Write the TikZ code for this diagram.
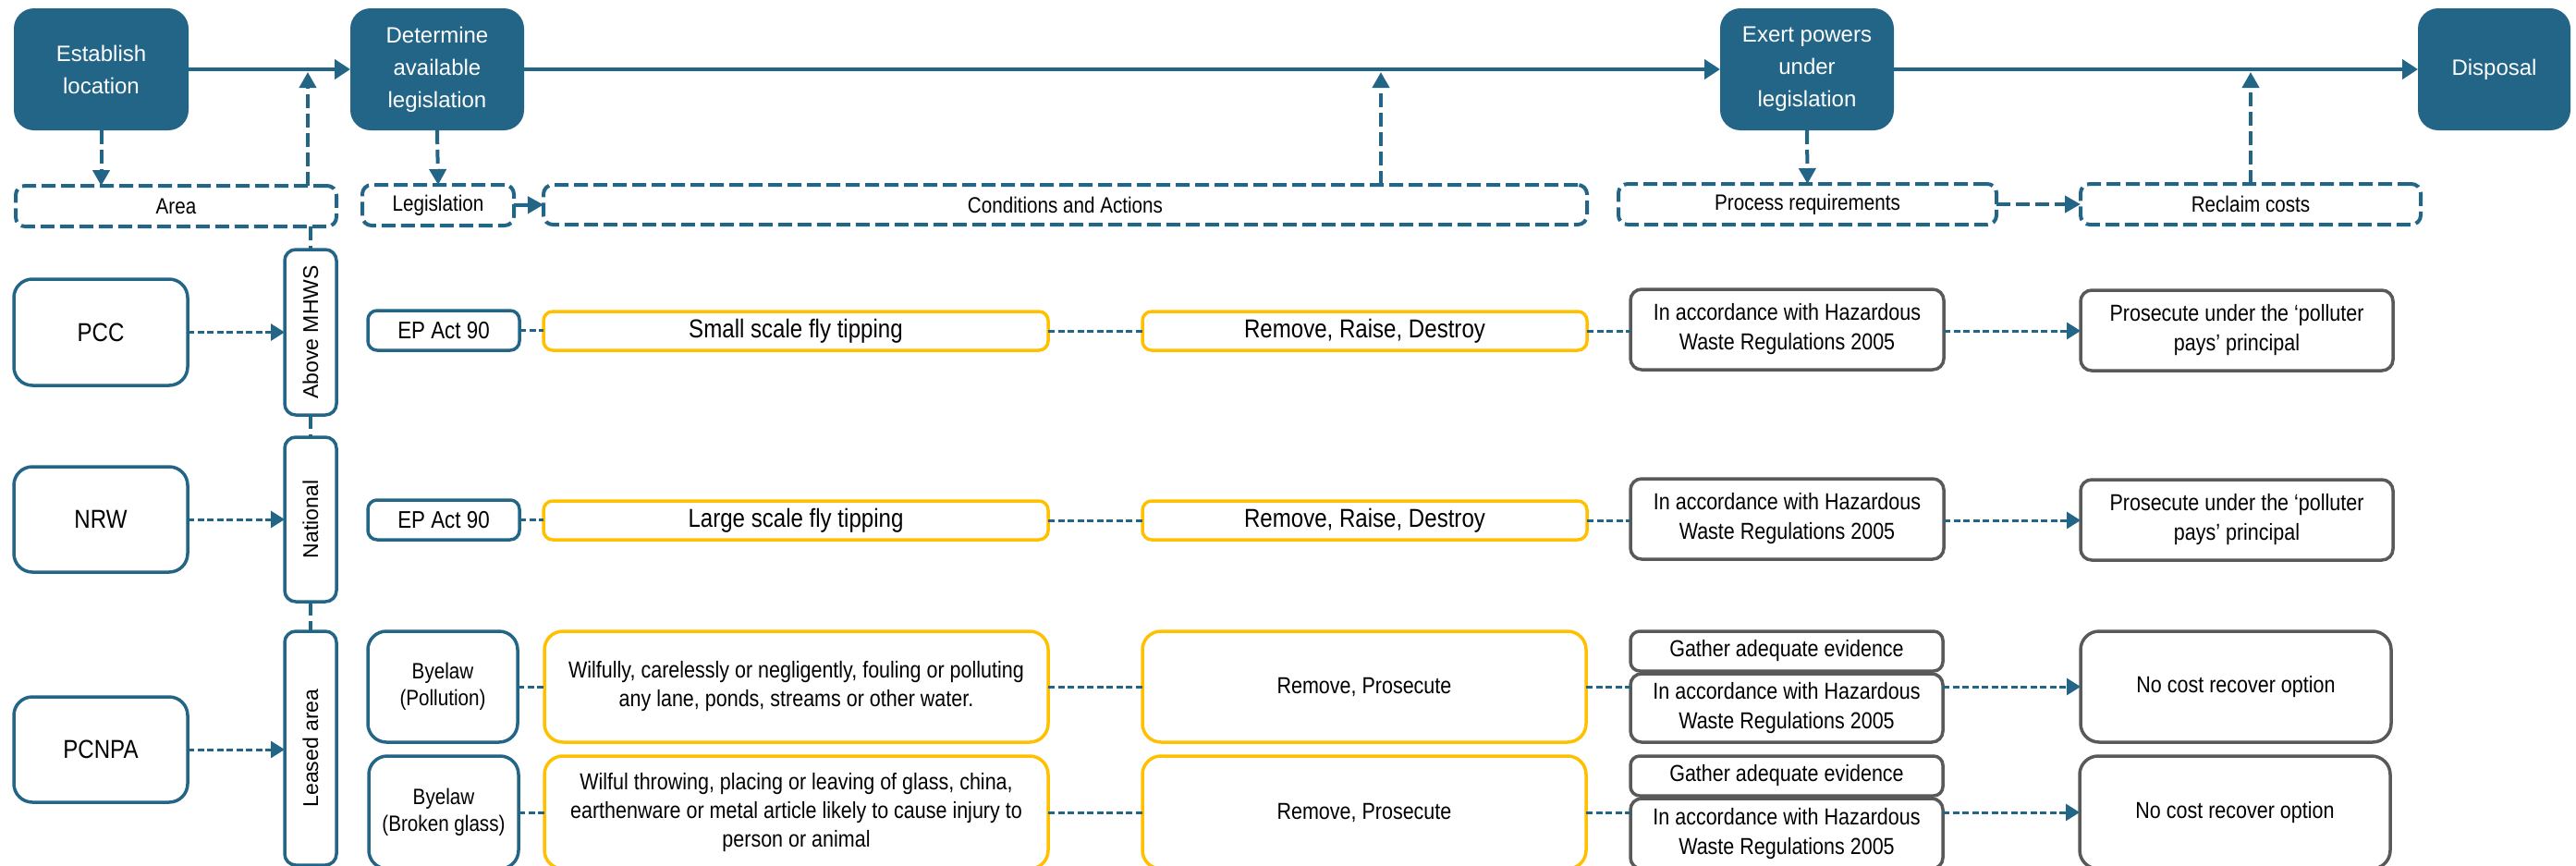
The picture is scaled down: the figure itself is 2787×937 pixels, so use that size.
\documentclass[tikz,border=0pt]{standalone}
\usepackage{fontspec}
\setmainfont{Liberation Sans}
\newfontfamily\narrowfont[FakeStretch=0.86]{Liberation Sans}
\usetikzlibrary{arrows.meta}
\definecolor{mblue}{RGB}{35,101,135}
\definecolor{myellow}{RGB}{255,192,0}
\definecolor{mgray}{RGB}{89,89,89}
\newcommand\placebox[7]{\node[#1,minimum width={(#5)-(#3)},minimum height={(#6)-(#4)}] (#2) at ({((#3)+(#5))/2},{((#4)+(#6))/2}) {#7};}
\begin{document}
\begin{tikzpicture}[x=1pt,y=-1pt,
  mainbox/.style={fill=mblue, draw=none, rounded corners=22pt, text=white, align=center, inner sep=2pt, outer sep=0pt, font=\fontsize{24}{35}\selectfont},
  dbox/.style={draw=mblue, line width=4pt, dash pattern=on 15pt off 6pt, rounded corners=10pt, align=center, inner sep=2pt, outer sep=0pt, font=\narrowfont\fontsize{24}{29}\selectfont},
  lbox/.style={draw=mblue, line width=3.5pt, rounded corners=20pt, align=center, inner sep=2pt, outer sep=0pt, font=\narrowfont\fontsize{28}{33}\selectfont},
  vbox/.style={draw=mblue, line width=3.5pt, rounded corners=12pt, inner sep=0pt, outer sep=0pt, font=\fontsize{23}{28}\selectfont},
  sbox/.style={draw=mblue, line width=3.5pt, rounded corners=10pt, align=center, inner sep=2pt, outer sep=0pt, font=\narrowfont\fontsize{24}{29}\selectfont},
  ybox/.style={draw=myellow, line width=3.5pt, rounded corners=10pt, align=center, inner sep=2pt, outer sep=0pt, font=\narrowfont\fontsize{25}{31}\selectfont},
  ybig/.style={ybox, font=\narrowfont\fontsize{28}{33}\selectfont},
  gbox/.style={draw=mgray, line width=3.5pt, rounded corners=12pt, align=center, inner sep=2pt, outer sep=0pt, font=\narrowfont\fontsize{25}{32}\selectfont},
  flow/.style={draw=mblue, line width=4pt, -{Triangle[length=17pt,width=21pt]}},
  darrow/.style={draw=mblue, line width=4pt, dash pattern=on 15pt off 6pt, -{Triangle[length=17pt,width=18pt]}},
  dline/.style={draw=mblue, line width=4pt, dash pattern=on 15pt off 6pt},
  tarrow/.style={draw=mblue, line width=3pt, dash pattern=on 7pt off 3.5pt, -{Triangle[length=15pt,width=18pt]}},
  tline/.style={draw=mblue, line width=3pt, dash pattern=on 7pt off 3.5pt}
]
\useasboundingbox (0,0) rectangle (2787,937);
\clip (0,0) rectangle (2787,937);

% main process boxes
\placebox{mainbox}{est}{15}{9}{204}{141}{Establish\\location}
\placebox{mainbox}{det}{379}{9}{567}{141}{Determine\\available\\legislation}
\placebox{mainbox}{exert}{1861}{9}{2049}{141}{Exert powers\\under\\legislation}
\placebox{mainbox}{disp}{2616}{9}{2781}{141}{Disposal}

\draw[flow] (est) -- (det);
\draw[flow] (det) -- (exert);
\draw[flow] (exert) -- (disp);

% dashed category boxes
\placebox{dbox}{area}{17}{201}{364}{245}{Area}
\placebox{dbox}{legis}{392}{200}{556}{244}{Legislation}
\placebox{dbox}{cond}{588}{200}{1717}{243}{Conditions and Actions}
\placebox{dbox}{proc}{1751}{199}{2160}{243}{Process requirements}
\placebox{dbox}{recl}{2251}{199}{2619}{243}{Reclaim costs}

\coordinate (upA) at (333,78);
\coordinate (upC) at (1494,78);
\coordinate (upR) at (2435,78);

\draw[darrow] (est.south) -- (est.south |- area.north);
\draw[darrow] (upA |- area.north) -- (upA);
\draw[darrow] (det.south) -- (legis.north);
\draw[darrow] (legis.east) -- (cond.west);
\draw[darrow] (upC |- cond.north) -- (upC);
\draw[darrow] (exert.south) -- (proc.north);
\draw[darrow] (proc.east) -- (recl.west);
\draw[darrow] (upR |- recl.north) -- (upR);

% location boxes
\placebox{lbox}{pcc}{15}{302}{203}{417}{PCC}
\placebox{lbox}{nrw}{15}{505}{203}{619}{NRW}
\placebox{lbox}{pcnpa}{15}{754}{203}{868}{PCNPA}

\placebox{vbox}{mhws}{308}{270}{364}{449}{\rotatebox{90}{Above MHWS}}
\placebox{vbox}{natl}{308}{473}{364}{651}{\rotatebox{90}{National}}
\placebox{vbox}{leased}{308}{683}{364}{936}{\rotatebox{90}{Leased area}}

\draw[dline] (mhws.north |- area.south) -- (mhws.north);
\draw[dline] (mhws.south) -- (natl.north);
\draw[dline] (natl.south) -- (leased.north);

\draw[tarrow] (pcc.east) -- (pcc.east -| mhws.west);
\draw[tarrow] (nrw.east) -- (nrw.east -| natl.west);
\draw[tarrow] (pcnpa.east) -- (pcnpa.east -| leased.west);

% row 1
\placebox{sbox,font=\narrowfont\fontsize{26}{30}\selectfont}{ep1}{398}{336}{562}{379}{EP Act 90}
\placebox{ybig}{sm1}{588}{337}{1134}{379}{Small scale fly tipping}
\placebox{ybig}{rr1}{1236}{337}{1717}{379}{Remove, Raise, Destroy}
\placebox{gbox}{acc1}{1764}{313}{2103}{400}{In accordance with Hazardous\\Waste Regulations 2005}
\placebox{gbox}{pros1}{2251}{314}{2589}{401}{Prosecute under the ‘polluter\\pays’ principal}
\draw[tline] (ep1.east) -- (ep1.east -| sm1.west);
\draw[tline] (sm1.east) -- (sm1.east -| rr1.west);
\draw[tline] (rr1.east) -- (rr1.east -| acc1.west);
\draw[tarrow] (acc1.east |- rr1.east) -- (rr1.east -| pros1.west);

% row 2
\placebox{sbox,font=\narrowfont\fontsize{26}{30}\selectfont}{ep2}{398}{541}{562}{584}{EP Act 90}
\placebox{ybig}{lg2}{588}{542}{1134}{584}{Large scale fly tipping}
\placebox{ybig}{rr2}{1236}{542}{1717}{584}{Remove, Raise, Destroy}
\placebox{gbox}{acc2}{1764}{518}{2103}{605}{In accordance with Hazardous\\Waste Regulations 2005}
\placebox{gbox}{pros2}{2251}{519}{2589}{606}{Prosecute under the ‘polluter\\pays’ principal}
\draw[tline] (ep2.east) -- (ep2.east -| lg2.west);
\draw[tline] (lg2.east) -- (lg2.east -| rr2.west);
\draw[tline] (rr2.east) -- (rr2.east -| acc2.west);
\draw[tarrow] (acc2.east |- rr2.east) -- (rr2.east -| pros2.west);

% row 3
\placebox{sbox,rounded corners=20pt}{by3}{398}{683}{560}{803}{Byelaw\\(Pollution)}
\placebox{ybox,rounded corners=20pt}{wf3}{589}{683}{1134}{803}{Wilfully,  carelessly or negligently, fouling or polluting\\any lane, ponds, streams or other water.}
\placebox{ybox,rounded corners=20pt}{rp3}{1236}{683}{1716}{803}{Remove, Prosecute}
\placebox{gbox,rounded corners=10pt}{ga3}{1764}{683}{2102}{726}{Gather adequate evidence}
\placebox{gbox}{acc3}{1764}{729}{2102}{803}{In accordance with Hazardous\\Waste Regulations 2005}
\placebox{gbox,rounded corners=20pt}{nc3}{2251}{683}{2587}{803}{No cost recover option}
\draw[tline] (by3.east) -- (by3.east -| wf3.west);
\draw[tline] (wf3.east) -- (wf3.east -| rp3.west);
\draw[tline] (rp3.east) -- (rp3.east -| acc3.west);
\draw[tarrow] (acc3.east |- nc3.west) -- (nc3.west);

% row 4
\placebox{sbox,rounded corners=20pt}{by4}{399}{818}{561}{940}{Byelaw\\(Broken glass)}
\placebox{ybox,rounded corners=20pt}{wf4}{589}{818}{1134}{940}{Wilful throwing, placing or leaving of glass, china,\\earthenware or metal article likely to cause injury to\\person or animal}
\placebox{ybox,rounded corners=20pt}{rp4}{1236}{818}{1716}{940}{Remove, Prosecute}
\placebox{gbox,rounded corners=10pt}{ga4}{1764}{818}{2102}{861}{Gather adequate evidence}
\placebox{gbox}{acc4}{1764}{864}{2102}{940}{In accordance with Hazardous\\Waste Regulations 2005}
\placebox{gbox,rounded corners=20pt}{nc4}{2250}{818}{2586}{940}{No cost recover option}
\draw[tline] (by4.east) -- (by4.east -| wf4.west);
\draw[tline] (wf4.east) -- (wf4.east -| rp4.west);
\draw[tline] (rp4.east) -- (rp4.east -| acc4.west);
\draw[tarrow] (acc4.east |- nc4.west) -- (nc4.west);
\end{tikzpicture}
\end{document}
